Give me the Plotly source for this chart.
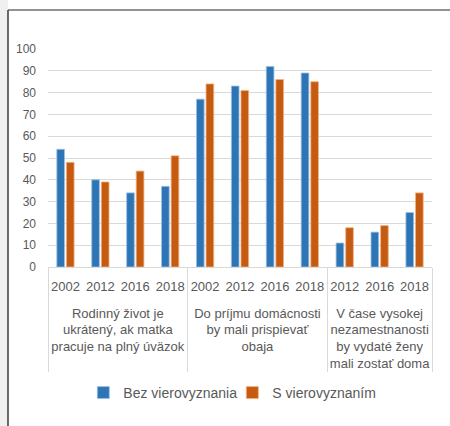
import plotly.graph_objects as go

# Survey statements (outer category level) and survey years (inner level)
statements = [
    "Rodinný život je<br>ukrátený, ak matka<br>pracuje na plný úväzok",
    "Do príjmu domácnosti<br>by mali prispievať<br>obaja",
    "V čase vysokej<br>nezamestnanosti<br>by vydaté ženy<br>mali zostať doma",
]
years_per_statement = [
    ["2002", "2012", "2016", "2018"],
    ["2002", "2012", "2016", "2018"],
    ["2012", "2016", "2018"],
]

# Share of agreement (%)
bez_vierovyznania = [54, 40, 34, 37, 77, 83, 92, 89, 11, 16, 25]
s_vierovyznanim = [48, 39, 44, 51, 84, 81, 86, 85, 18, 19, 34]

series_names = ["Bez vierovyznania", "S vierovyznaním"]
series_colors = ["#2E75B6", "#C55A11"]
outline_colors = ["#9DC3E6", "#F4B183"]

# Leading break leaves a blank line between the years and the statement text
outer = ["<br>" + s for s, ys in zip(statements, years_per_statement) for _ in ys]
inner = [y for ys in years_per_statement for y in ys]

text_color = "#595959"
font_family = "Liberation Sans, Arial, sans-serif"

fig = go.Figure()
for name, values, color, outline in zip(
    series_names, [bez_vierovyznania, s_vierovyznanim], series_colors, outline_colors
):
    fig.add_trace(
        go.Bar(
            name=name,
            x=[outer, inner],
            y=values,
            marker=dict(color=color, line=dict(color=outline, width=0.8)),
        )
    )

fig.update_layout(
    width=450,
    height=426,
    margin=dict(l=48, r=18, t=49, b=159),
    paper_bgcolor="white",
    plot_bgcolor="white",
    barmode="group",
    bargap=0.45,
    bargroupgap=0.2,
    font=dict(family=font_family, color=text_color, size=13),
    showlegend=True,
    legend=dict(
        orientation="h",
        x=0.48,
        xanchor="center",
        y=-0.578,
        yanchor="middle",
        bgcolor="rgba(0,0,0,0)",
        font=dict(size=14, color=text_color),
        itemwidth=30,
        entrywidth=104,
        tracegroupgap=0,
    ),
    xaxis=dict(
        type="multicategory",
        showline=True,
        linecolor="#D9D9D9",
        linewidth=1,
        showdividers=True,
        dividercolor="#D9D9D9",
        dividerwidth=1,
        tickangle=0,
        ticklabelstandoff=7,
        tickfont=dict(size=13, color=text_color),
        ticks="",
        showgrid=False,
    ),
    yaxis=dict(
        range=[0, 100],
        dtick=10,
        showgrid=True,
        gridcolor="#D9D9D9",
        gridwidth=1,
        zeroline=False,
        showline=False,
        ticks="",
        ticklabelstandoff=11,
        tickfont=dict(size=12, color=text_color),
    ),
)

# Chart frame: dark edge along the top and left side, with a faint shadow
fig.add_shape(type="rect", xref="paper", yref="paper",
              x0=-48 / 384, x1=-40 / 384, y0=-159 / 218, y1=1 + 49 / 218,
              line=dict(width=0), fillcolor="#F0F0F0", layer="below")
fig.add_shape(type="line", xref="paper", yref="paper",
              x0=-40 / 384, x1=1 + 18 / 384, y0=1 + 39 / 218, y1=1 + 39 / 218,
              line=dict(color="#6E6E6E", width=1.5))
fig.add_shape(type="line", xref="paper", yref="paper",
              x0=-40 / 384, x1=-40 / 384, y0=-159 / 218, y1=1 + 39 / 218,
              line=dict(color="#3A3A3A", width=1.5))

fig.write_html("out.html")
